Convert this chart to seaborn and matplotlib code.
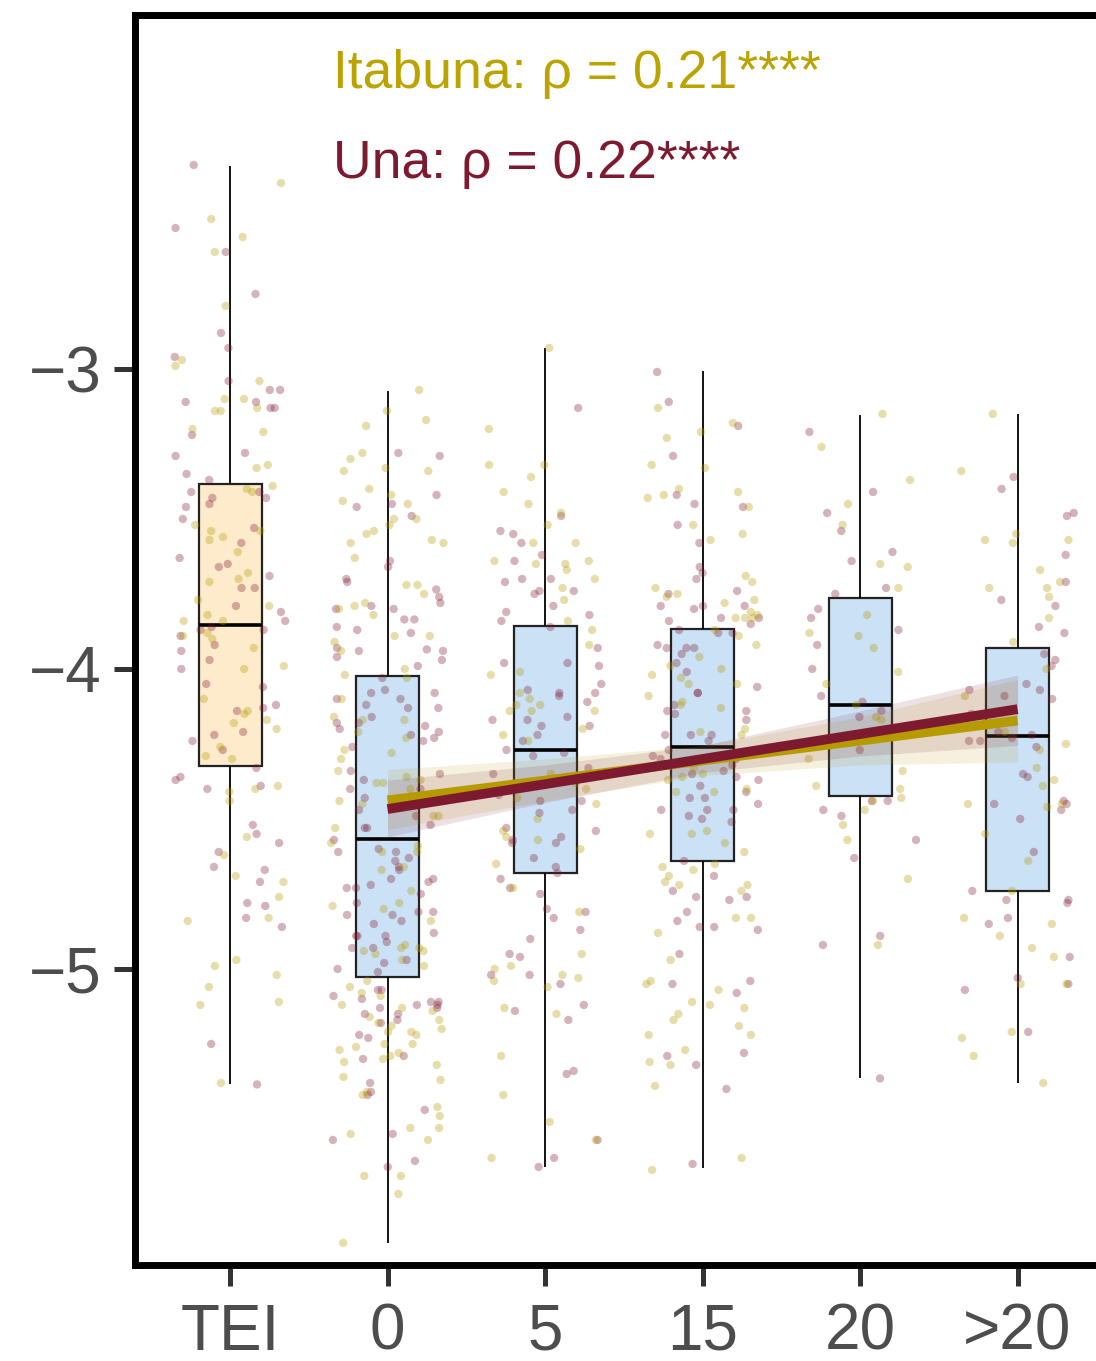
import numpy as np
import pandas as pd
import matplotlib
matplotlib.use("Agg")
import matplotlib.pyplot as plt
import seaborn as sns

# ---------------- data ----------------
categories = ["TEI", "0", "5", "15", "20", ">20"]

# five-number summaries [min, q1, median, q3, max]
box_TEI = [-5.385, -4.323, -3.853, -3.383, -2.323]
box_0 = [-5.913, -5.027, -4.566, -4.025, -3.073]
box_5 = [-5.66, -4.68, -4.27, -3.857, -2.93]
box_15 = [-5.663, -4.64, -4.26, -3.867, -3.008]
box_20 = [-5.365, -4.422, -4.12, -3.763, -3.152]
box_gt20 = [-5.38, -4.74, -4.225, -3.929, -3.15]

una_TEI = [-2.32, -2.53, -2.61, -2.75, -2.88, -2.93, -2.96, -3.04, -3.07, -3.07, -3.11, -3.11, -3.13, -3.13,
           -3.22, -3.28, -3.29, -3.35, -3.37, -3.41, -3.41, -3.43, -3.43, -3.45, -3.46, -3.50, -3.53, -3.58,
           -3.63, -3.65, -3.66, -3.69, -3.73, -3.73, -3.79, -3.81, -3.84, -3.86, -3.87, -3.87, -3.89, -3.92,
           -3.94, -3.97, -4.00, -4.05, -4.06, -4.12, -4.13, -4.14, -4.21, -4.22, -4.24, -4.27, -4.33, -4.36,
           -4.37, -4.39, -4.40, -4.52, -4.55, -4.58, -4.61, -4.66, -4.67, -4.71, -4.78, -4.79, -4.83, -4.86,
           -5.25, -5.385]
ita_TEI = [-2.38, -2.50, -2.56, -2.61, -2.79, -2.97, -2.99, -3.04, -3.10, -3.10, -3.13, -3.14, -3.14, -3.20,
           -3.21, -3.32, -3.33, -3.39, -3.40, -3.41, -3.52, -3.54, -3.54, -3.56, -3.57, -3.61, -3.68, -3.70,
           -3.71, -3.77, -3.79, -3.82, -3.84, -3.84, -3.88, -3.89, -3.90, -3.93, -3.99, -4.00, -4.10, -4.14,
           -4.15, -4.17, -4.18, -4.20, -4.26, -4.29, -4.30, -4.39, -4.40, -4.41, -4.44, -4.56, -4.62, -4.69,
           -4.71, -4.76, -4.83, -4.84, -4.97, -4.99, -5.02, -5.06, -5.11, -5.12, -5.38]

una_0 = [-3.29, -3.28, -3.42, -3.45, -3.46, -3.49, -3.64, -3.66, -3.70, -3.71, -3.735, -3.76, -3.78, -3.79,
         -3.80, -3.80, -3.835, -3.835, -3.86, -3.87, -3.88, -3.93, -3.935, -3.94, -3.94, -3.96, -3.97, -3.99,
         -4.03, -4.07, -4.08, -4.08, -4.10, -4.10, -4.12, -4.13, -4.13, -4.16, -4.18, -4.18, -4.19, -4.20,
         -4.21, -4.22, -4.23, -4.24, -4.26, -4.34, -4.35, -4.37, -4.40, -4.40, -4.43, -4.45, -4.47, -4.49,
         -4.52, -4.53, -4.53, -4.57, -4.60, -4.61, -4.61, -4.63, -4.64, -4.67, -4.66, -4.70, -4.70, -4.71,
         -4.72, -4.73, -4.73, -4.75, -4.78, -4.81, -4.81, -4.82, -4.82, -4.84, -4.85, -4.88, -4.89, -4.89,
         -4.89, -4.91, -4.93, -4.93, -4.97, -4.98, -5.00, -5.01, -5.07, -5.07, -5.09, -5.10, -5.11, -5.11,
         -5.12, -5.12, -5.13, -5.13, -5.15, -5.15, -5.17, -5.18, -5.22, -5.23, -5.29, -5.30, -5.38, -5.41,
         -5.42, -5.47, -5.55, -5.57, -5.64, -5.66]
ita_0 = [-3.07, -3.14, -3.19, -3.17, -3.30, -3.28, -3.33, -3.34, -3.34, -3.40, -3.42, -3.45, -3.44, -3.50,
         -3.50, -3.52, -3.54, -3.55, -3.57, -3.58, -3.58, -3.63, -3.72, -3.72, -3.75, -3.78, -3.79, -3.80,
         -3.82, -3.89, -3.89, -3.91, -3.94, -4.00, -4.03, -4.02, -4.10, -4.16, -4.17, -4.17, -4.21, -4.23,
         -4.27, -4.28, -4.30, -4.34, -4.36, -4.37, -4.38, -4.38, -4.40, -4.44, -4.45, -4.49, -4.49, -4.53,
         -4.58, -4.59, -4.61, -4.61, -4.66, -4.67, -4.74, -4.78, -4.79, -4.80, -4.84, -4.93, -4.92, -4.93,
         -4.94, -4.94, -4.95, -4.97, -4.99, -5.04, -5.06, -5.08, -5.09, -5.12, -5.13, -5.14, -5.16, -5.17,
         -5.18, -5.19, -5.20, -5.21, -5.21, -5.22, -5.25, -5.25, -5.26, -5.27, -5.28, -5.29, -5.30, -5.31,
         -5.32, -5.36, -5.37, -5.41, -5.42, -5.46, -5.49, -5.53, -5.53, -5.55, -5.57, -5.69, -5.69, -5.75,
         -5.913]

una_5 = [-3.13, -3.49, -3.54, -3.55, -3.58, -3.62, -3.64, -3.70, -3.70, -3.71, -3.74, -3.74, -3.75, -3.79,
         -3.81, -3.82, -3.84, -3.86, -3.93, -3.98, -3.98, -3.99, -4.05, -4.07, -4.08, -4.08, -4.09, -4.11,
         -4.16, -4.17, -4.17, -4.19, -4.19, -4.22, -4.24, -4.27, -4.28, -4.29, -4.33, -4.35, -4.36, -4.42,
         -4.44, -4.44, -4.47, -4.48, -4.53, -4.54, -4.56, -4.57, -4.58, -4.58, -4.63, -4.66, -4.68, -4.70,
         -4.73, -4.75, -4.80, -4.81, -4.83, -4.87, -4.90, -4.95, -4.96, -5.02, -5.02, -5.05, -5.12, -5.14,
         -5.17, -5.34, -5.35, -5.57, -5.63, -5.66]
ita_5 = [-2.93, -3.20, -3.32, -3.32, -3.36, -3.41, -3.45, -3.48, -3.52, -3.58, -3.58, -3.64, -3.64, -3.65,
         -3.65, -3.67, -3.70, -3.73, -3.77, -3.84, -3.87, -3.92, -4.01, -4.02, -4.08, -4.10, -4.12, -4.12,
         -4.14, -4.14, -4.14, -4.20, -4.22, -4.24, -4.35, -4.38, -4.40, -4.43, -4.45, -4.50, -4.54, -4.56,
         -4.57, -4.60, -4.65, -4.73, -4.81, -4.95, -4.99, -5.00, -5.02, -5.03, -5.04, -5.06, -5.13, -5.15,
         -5.29, -5.42, -5.51, -5.57, -5.63]

una_15 = [-3.01, -3.11, -3.19, -3.29, -3.42, -3.45, -3.46, -3.52, -3.58, -3.66, -3.68, -3.70, -3.74, -3.75,
          -3.79, -3.79, -3.79, -3.80, -3.83, -3.83, -3.84, -3.85, -3.87, -3.88, -3.88, -3.92, -3.93, -3.93,
          -3.93, -3.95, -3.98, -4.01, -4.06, -4.08, -4.08, -4.12, -4.14, -4.15, -4.14, -4.17, -4.22, -4.22,
          -4.22, -4.24, -4.27, -4.29, -4.30, -4.30, -4.31, -4.32, -4.34, -4.35, -4.36, -4.37, -4.39, -4.41,
          -4.43, -4.43, -4.45, -4.47, -4.47, -4.47, -4.49, -4.50, -4.51, -4.64, -4.69, -4.74, -4.76, -4.76,
          -4.77, -4.81, -4.84, -4.86, -4.86, -4.87, -4.95, -5.04, -5.05, -5.08, -5.28, -5.29, -5.32, -5.40,
          -5.65]
ita_15 = [-3.13, -3.18, -3.21, -3.23, -3.32, -3.33, -3.40, -3.41, -3.42, -3.43, -3.46, -3.52, -3.55, -3.57,
          -3.69, -3.71, -3.73, -3.75, -3.76, -3.77, -3.78, -3.81, -3.82, -3.83, -3.83, -3.83, -3.87, -3.89,
          -3.92, -3.96, -3.99, -4.00, -4.02, -4.03, -4.05, -4.05, -4.09, -4.11, -4.12, -4.13, -4.20, -4.21,
          -4.22, -4.33, -4.35, -4.36, -4.37, -4.40, -4.41, -4.41, -4.54, -4.55, -4.55, -4.58, -4.61, -4.65,
          -4.66, -4.67, -4.69, -4.71, -4.72, -4.72, -4.74, -4.83, -4.83, -4.88, -4.97, -5.04, -5.05, -5.07,
          -5.11, -5.12, -5.13, -5.15, -5.17, -5.19, -5.22, -5.22, -5.27, -5.31, -5.32, -5.39, -5.63, -5.67]

una_20 = [-3.21, -3.41, -3.48, -3.54, -3.61, -3.64, -3.73, -3.75, -3.80, -3.83, -3.87, -3.92, -4.00, -4.09,
          -4.11, -4.14, -4.16, -4.22, -4.27, -4.44, -4.44, -4.47, -4.49, -4.57, -4.63, -4.89, -4.92, -5.365]
ita_20 = [-3.15, -3.26, -3.37, -3.45, -3.52, -3.65, -3.66, -3.73, -3.82, -3.88, -3.89, -3.93, -4.01, -4.05,
          -4.12, -4.16, -4.17, -4.30, -4.34, -4.39, -4.40, -4.43, -4.44, -4.47, -4.52, -4.57, -4.70, -4.92]

una_gt20 = [-3.36, -3.40, -3.48, -3.49, -3.62, -3.71, -3.77, -3.79, -3.86, -3.88, -3.95, -3.97, -3.99, -4.05,
            -4.07, -4.07, -4.09, -4.10, -4.15, -4.21, -4.22, -4.23, -4.24, -4.24, -4.26, -4.35, -4.36, -4.44,
            -4.45, -4.45, -4.47, -4.50, -4.61, -4.74, -4.77, -4.77, -4.78, -4.83, -4.85, -4.96, -5.03, -5.05,
            -5.07, -5.21]
ita_gt20 = [-3.15, -3.34, -3.55, -3.57, -3.58, -3.57, -3.67, -3.71, -3.73, -3.73, -3.76, -3.83, -3.91, -4.00,
            -4.09, -4.18, -4.21, -4.25, -4.27, -4.33, -4.37, -4.39, -4.45, -4.45, -4.46, -4.55, -4.64, -4.74,
            -4.83, -4.85, -4.89, -4.93, -4.96, -5.05, -5.05, -5.21, -5.23, -5.29, -5.38]

# regression fits (value and confidence band) at categories 0..>20
fit_categories = ["0", "5", "15", "20", ">20"]
ita_fit = [-4.438, -4.372, -4.305, -4.239, -4.172]
ita_lo = [-4.535, -4.440, -4.355, -4.320, -4.310]
ita_hi = [-4.335, -4.300, -4.255, -4.160, -4.035]
una_fit = [-4.467, -4.384, -4.300, -4.217, -4.134]
una_lo = [-4.560, -4.445, -4.345, -4.290, -4.255]
una_hi = [-4.370, -4.320, -4.255, -4.140, -4.020]

labels = ["Itabuna: \u03c1 = 0.21****", "Una: \u03c1 = 0.22****"]

# ---------------- styling ----------------
GOLD = "#B59A00"
GOLD_TXT = "#BBA300"
MAROON = "#7E1A2F"
BOX_COLORS = {"TEI": "#FDEBCB", "0": "#CBE1F6", "5": "#CBE1F6", "15": "#CBE1F6",
              "20": "#CBE1F6", ">20": "#CBE1F6"}

sns.set_theme(style="white")
plt.rcParams["font.family"] = ["Liberation Sans", "DejaVu Sans"]

box_lists = [box_TEI, box_0, box_5, box_15, box_20, box_gt20]
box_df = pd.DataFrame({
    "category": np.repeat(categories, 5),
    "value": np.concatenate(box_lists),
})

una_lists = [una_TEI, una_0, una_5, una_15, una_20, una_gt20]
ita_lists = [ita_TEI, ita_0, ita_5, ita_15, ita_20, ita_gt20]
rows = []
for cat, u, it in zip(categories, una_lists, ita_lists):
    rows += [(cat, "Una", v) for v in u]
    rows += [(cat, "Itabuna", v) for v in it]
pts = pd.DataFrame(rows, columns=["category", "site", "value"])

fig = plt.figure(figsize=(10.96, 13.61), dpi=100)
ax = fig.add_axes([0.1232, 0.0705, 0.8768, 0.9185])

sns.boxplot(data=box_df, x="category", y="value", order=categories, hue="category",
            palette=BOX_COLORS, saturation=1, legend=False, whis=(0, 100), width=0.4,
            showcaps=False, linecolor="black", linewidth=1.6, fliersize=0, ax=ax,
            medianprops=dict(linewidth=2.6, color="black"),
            whiskerprops=dict(linewidth=1.3, color="black"),
            boxprops=dict(edgecolor="#222222"))

np.random.seed(11)
sns.stripplot(data=pts, x="category", y="value", order=categories, hue="site",
              hue_order=["Itabuna", "Una"], palette={"Una": MAROON, "Itabuna": GOLD},
              jitter=0.36, size=6, alpha=0.33, linewidth=0, legend=False, ax=ax, zorder=3)

fit_pos = [categories.index(c) for c in fit_categories]
ax.fill_between(fit_pos, ita_lo, ita_hi, color=GOLD, alpha=0.13, linewidth=0, zorder=4)
ax.fill_between(fit_pos, una_lo, una_hi, color=MAROON, alpha=0.13, linewidth=0, zorder=4)
sns.lineplot(x=fit_pos, y=ita_fit, color=GOLD, linewidth=7, ax=ax, zorder=5,
             solid_capstyle="butt")
sns.lineplot(x=fit_pos, y=una_fit, color=MAROON, linewidth=7, ax=ax, zorder=6,
             solid_capstyle="butt")

ax.text(0.654, -2.063, labels[0], color=GOLD_TXT, fontsize=38.5, ha="left", va="baseline")
ax.text(0.654, -2.363, labels[1], color=MAROON, fontsize=38.5, ha="left", va="baseline")

ax.set_xlim(-0.603, 5.498)
ax.set_ylim(-5.987, -1.82)
ax.set_xticks(range(len(categories)))
ax.set_xticklabels(categories)
ax.set_yticks([-5, -4, -3])
ax.set_yticklabels(["\u22125", "\u22124", "\u22123"])
ax.set_xlabel("")
ax.set_ylabel("")
ax.tick_params(axis="both", which="major", length=15, width=3.6, color="#333333",
               labelsize=46, labelcolor="#4D4D4D", left=True, bottom=True)
ax.tick_params(axis="x", pad=12)
ax.tick_params(axis="y", pad=9)
for side in ["left", "bottom", "top"]:
    ax.spines[side].set_visible(True)
    ax.spines[side].set_linewidth(5)
    ax.spines[side].set_color("black")
ax.spines["right"].set_visible(False)

fig.savefig("out.png", dpi=100)
